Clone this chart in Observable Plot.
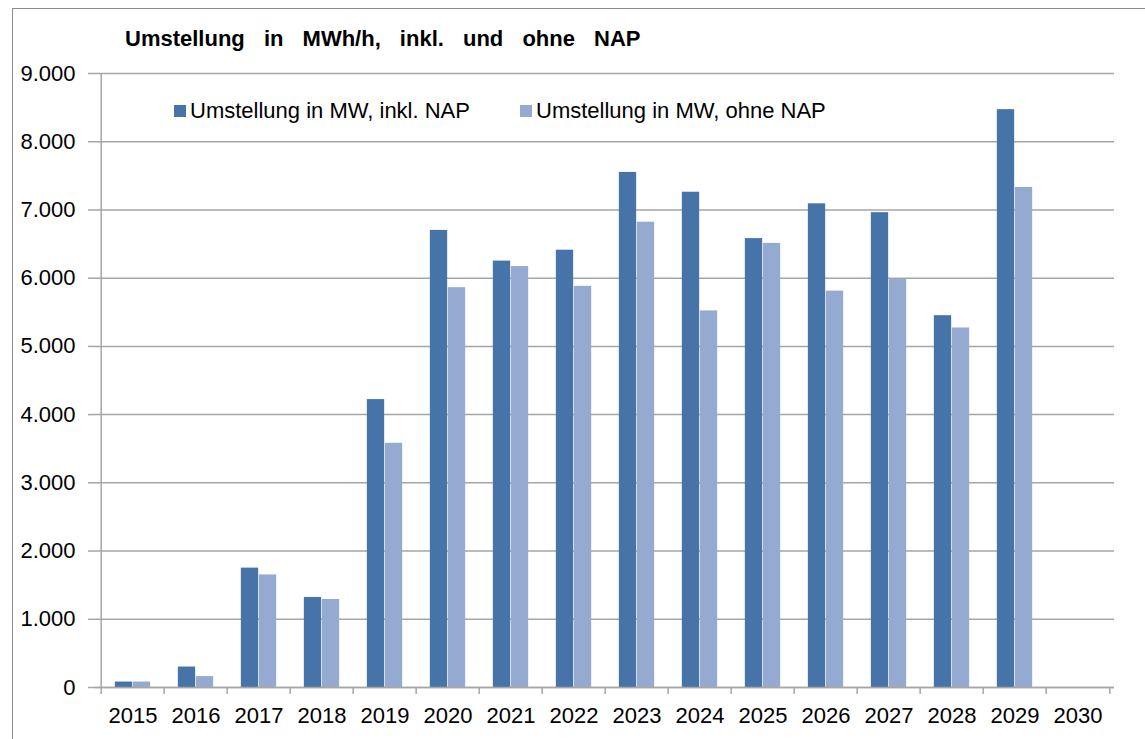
<!DOCTYPE html>
<html><head><meta charset="utf-8">
<script src="https://cdn.jsdelivr.net/npm/d3@7"></script>
<script src="https://cdn.jsdelivr.net/npm/@observablehq/plot@0.6"></script>
<style>
body{margin:0;background:#fff;font-family:"Liberation Sans",Arial,sans-serif;}
#wrap{position:relative;width:1145px;height:739px;overflow:hidden;}
#frame{position:absolute;left:12px;top:8px;width:1300px;height:900px;border:1px solid #8c8c8c;box-sizing:border-box;}
#title{position:absolute;left:125px;top:28px;font-weight:bold;font-size:22px;line-height:22px;word-spacing:13px;color:#000;white-space:nowrap;}
.leg{position:absolute;top:100px;font-size:22px;line-height:22px;color:#000;white-space:nowrap;display:flex;align-items:center;}
.sw{width:12px;height:12px;margin-right:4px;display:inline-block;}
#chart{position:absolute;left:0;top:0;}
</style></head>
<body>
<div id="wrap">
  <div id="frame"></div>
  <div id="chart"></div>
  <div id="title"></div>
  <div id="leg0" class="leg" style="left:174px"></div>
  <div id="leg1" class="leg" style="left:520px"></div>
</div>
<script>
const titleText = "Umstellung in MWh/h, inkl. und ohne NAP";
const years = [2015,2016,2017,2018,2019,2020,2021,2022,2023,2024,2025,2026,2027,2028,2029,2030];
const inklNAP = [80,300,1750,1320,4220,6700,6250,6410,7550,7260,6580,7090,6960,5450,8470,null];
const ohneNAP = [80,160,1650,1290,3580,5860,6170,5880,6820,5520,6510,5810,5980,5270,7330,null];
const seriesNames = ["Umstellung in MW, inkl. NAP","Umstellung in MW, ohne NAP"];
const colors = ["#4674A8","#95AAD1"];
const yTicks = d3.range(0, 9001, 1000);

const de = d3.formatLocale({decimal:",", thousands:".", grouping:[3], currency:["","€"]});
const fmt = de.format(",");

const rows = years.map((y,i)=>({year:String(y), inkl:inklNAP[i], ohne:ohneNAP[i]}));
const W = 1145, H = 739, mL = 95, mR = 31;
const bw = (W - mL - mR) / years.length;
const barW = 18;
const gridColor = "#a6a6a6";

document.getElementById("title").textContent = titleText;
seriesNames.forEach((n,i)=>{
  const el = document.getElementById("leg"+i);
  const sw = document.createElement("span"); sw.className="sw"; sw.style.background=colors[i];
  const t = document.createElement("span"); t.textContent = n;
  el.appendChild(sw); el.appendChild(t);
});

const chart = Plot.plot({
  width: W, height: H, marginLeft: mL, marginRight: mR, marginTop: 73, marginBottom: 52,
  style: {fontFamily: "Liberation Sans, Arial, sans-serif", background: "transparent", color: "#000"},
  x: {type: "band", domain: years.map(String), padding: 0},
  y: {domain: [0, 9000]},
  marks: [
    Plot.gridY(yTicks, {stroke: gridColor, strokeOpacity: 1, strokeWidth: 1.5}),
    Plot.barY(rows.filter(d => d.inkl != null), {x: "year", y: "inkl", fill: colors[0], insetLeft: bw/2 - barW, insetRight: bw/2}),
    Plot.barY(rows.filter(d => d.ohne != null), {x: "year", y: "ohne", fill: colors[1], insetLeft: bw/2, insetRight: bw/2 - barW}),
    Plot.ruleY([0], {stroke: gridColor, strokeWidth: 1.5}),
    Plot.ruleX([years[0]].map(String), {y1: 0, y2: 9000, dx: -bw/2, stroke: gridColor, strokeWidth: 1.5}),
    Plot.ruleX(years.map(String), {y1: 0, y2: 0, insetBottom: -7, dx: -bw/2, stroke: gridColor, strokeWidth: 1.5}),
    Plot.ruleX([years[years.length-1]].map(String), {y1: 0, y2: 0, insetBottom: -7, dx: bw/2, stroke: gridColor, strokeWidth: 1.5}),
    Plot.axisY(yTicks, {tickSize: 7, tickPadding: 13, tickFormat: fmt, fontSize: 22, stroke: gridColor, strokeWidth: 1.5, fill: "#000", label: null}),
    Plot.axisX({tickSize: 0, tickPadding: 20, fontSize: 22, fill: "#000", label: null})
  ]
});
document.getElementById("chart").appendChild(chart);
</script>
</body></html>
